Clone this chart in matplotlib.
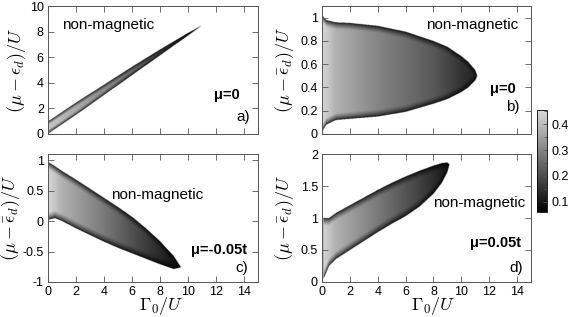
import numpy as np
import matplotlib
matplotlib.use('Agg')
import matplotlib.pyplot as plt
from matplotlib.colors import LinearSegmentedColormap

plt.rcParams['font.family'] = ['Liberation Sans', 'DejaVu Sans']
plt.rcParams['mathtext.fontset'] = 'cm'

# boundaries of the magnetic region (x = Gamma0/U)
a_x = [0.0, 0.1, 2.0, 4.0, 6.0, 8.0, 10.0, 11.0]
a_low = [0.05, 0.1, 1.5, 3.05, 4.6, 6.15, 7.7, 8.5]
a_up = [1.0, 1.05, 2.45, 3.85, 5.25, 6.6, 7.9, 8.5]
a_x_lvl = [0.0, 3.0, 6.0, 9.0, 11.0]
a_lvl = [0.42, 0.34, 0.25, 0.15, 0.08]

b_x = [0.0, 0.3, 1.0, 2.0, 4.0, 6.0, 8.0, 9.0, 10.0, 10.5, 11.0, 11.15]
b_low = [0.02, 0.08, 0.12, 0.13, 0.15, 0.19, 0.26, 0.3, 0.36, 0.4, 0.46, 0.5]
b_up = [1.02, 0.98, 0.96, 0.955, 0.93, 0.88, 0.8, 0.75, 0.67, 0.62, 0.55, 0.5]
b_x_lvl = [0.0, 1.0, 4.0, 8.0, 11.0]
b_lvl = [0.45, 0.38, 0.3, 0.22, 0.12]

c_x = [0.0, 0.5, 1.0, 2.0, 3.0, 4.0, 5.0, 6.0, 7.0, 8.0, 9.0, 9.5]
c_low = [0.02, 0.05, 0.0, -0.12, -0.23, -0.34, -0.44, -0.53, -0.62, -0.71, -0.79, -0.76]
c_up = [0.97, 0.9, 0.82, 0.68, 0.53, 0.38, 0.23, 0.07, -0.12, -0.33, -0.58, -0.76]
c_x_lvl = [0.0, 1.0, 4.0, 7.0, 9.5]
c_lvl = [0.45, 0.38, 0.28, 0.17, 0.08]

d_x = [0.1, 0.5, 1.0, 2.0, 3.0, 4.0, 5.0, 6.0, 7.0, 8.0, 8.6, 9.0, 9.15]
d_low = [0.05, 0.25, 0.36, 0.5, 0.64, 0.78, 0.91, 1.03, 1.18, 1.38, 1.55, 1.72, 1.84]
d_up = [1.0, 1.0, 1.08, 1.2, 1.32, 1.44, 1.55, 1.65, 1.74, 1.82, 1.86, 1.87, 1.84]
d_x_lvl = [0.0, 1.0, 4.0, 7.0, 9.0]
d_lvl = [0.45, 0.38, 0.28, 0.18, 0.1]

vmin, vmax = 0.06, 0.455
cmap = LinearSegmentedColormap.from_list('g', ['#000000', '#dadada'])


def field(bx, blow, bup, lx, lvl, ylim, edge):
    xs = np.linspace(0, 15, 700)
    ys = np.linspace(ylim[0], ylim[1], 400)
    X, Y = np.meshgrid(xs, ys)
    lo = np.interp(xs, bx, blow)
    hi = np.interp(xs, bx, bup)
    inside = (xs >= bx[0]) & (xs <= bx[-1])
    base = np.interp(xs, lx, lvl)
    d = np.minimum(Y - lo[None, :], hi[None, :] - Y)
    f = np.clip(d / edge, 0, 1) ** 0.6
    Z = vmin + (base[None, :] - vmin) * f
    mask = (d < 0) | (~inside[None, :])
    return np.ma.array(Z, mask=mask)


fig = plt.figure(figsize=(5.72, 3.17), dpi=100)
W, H = 572, 317


def make_ax(l, r, t, b):
    return fig.add_axes([l / W, 1 - b / H, (r - l) / W, (b - t) / H])


axa = make_ax(48, 258, 6, 134)
axb = make_ax(322, 531, 6, 134)
axc = make_ax(48, 258, 154, 282)
axd = make_ax(322, 531, 154, 282)

panels = [
    (axa, a_x, a_low, a_up, a_x_lvl, a_lvl, (0, 10), 0.3, r'$(\mu-\epsilon_d)/U$', [0, 2, 4, 6, 8, 10], ['0', '2', '4', '6', '8', '10']),
    (axb, b_x, b_low, b_up, b_x_lvl, b_lvl, (0, 1.1), 0.06, r'$(\mu-\bar{\epsilon}_d)/U$', [0, 0.2, 0.4, 0.6, 0.8, 1], ['0', '0.2', '0.4', '0.6', '0.8', '1']),
    (axc, c_x, c_low, c_up, c_x_lvl, c_lvl, (-1, 1.1), 0.12, r'$(\mu-\bar{\epsilon}_d)/U$', [-1, -0.5, 0, 0.5, 1], ['-1', '-0.5', '0', '0.5', '1']),
    (axd, d_x, d_low, d_up, d_x_lvl, d_lvl, (0, 2), 0.12, r'$(\mu-\bar{\epsilon}_d)/U$', [0, 0.5, 1, 1.5, 2], ['0', '0.5', '1', '1.5', '2']),
]

im = None
for ax, bx, blow, bup, lx, lvl, ylim, edge, ylab, yt, ytl in panels:
    Z = field(bx, blow, bup, lx, lvl, ylim, edge)
    im = ax.imshow(Z, origin='lower', extent=[0, 15, ylim[0], ylim[1]], aspect='auto',
                   cmap=cmap, vmin=vmin, vmax=vmax, interpolation='bilinear')
    ax.set_xlim(0, 15)
    ax.set_ylim(*ylim)
    ax.set_yticks(yt)
    ax.set_yticklabels(ytl)
    ax.set_xticks(range(0, 15, 2))
    ax.tick_params(direction='in', top=True, right=True, labelsize=9, length=4, width=0.6, pad=3, color='#555555')
    for s in ax.spines.values():
        s.set_linewidth(0.7)
        s.set_color('#555555')
    ax.set_ylabel(ylab, fontsize=13, labelpad=2)

for ax in (axa, axb):
    ax.set_xticklabels([])
for ax in (axc, axd):
    ax.set_xlabel(r'$\Gamma_0/U$', fontsize=13)

axa.yaxis.set_label_coords(-0.097, 0.5)
axc.yaxis.set_label_coords(-0.125, 0.5)
axb.yaxis.set_label_coords(-0.125, 0.5)
axd.yaxis.set_label_coords(-0.125, 0.5)
axc.xaxis.set_label_coords(0.54, -0.1)
axd.xaxis.set_label_coords(0.53, -0.1)

# annotations
axa.text(1.0, 8.5, 'non-magnetic', fontsize=11, va='center')
axa.text(13.7, 3.05, 'μ=0', fontsize=10.5, fontweight='bold', ha='right', va='center')
axa.text(14.4, 1.33, 'a)', fontsize=11, ha='right', va='center')

axb.text(14.1, 0.94, 'non-magnetic', fontsize=11, ha='right', va='center')
axb.text(13.9, 0.39, 'μ=0', fontsize=10.5, fontweight='bold', ha='right', va='center')
axb.text(14.2, 0.23, 'b)', fontsize=11, ha='right', va='center')

axc.text(7.8, 0.43, 'non-magnetic', fontsize=11, ha='center', va='center')
axc.text(14.2, -0.475, 'μ=-0.05t', fontsize=10.5, fontweight='bold', ha='right', va='center')
axc.text(14.3, -0.77, 'c)', fontsize=11, ha='right', va='center')

axd.text(14.6, 1.23, 'non-magnetic', fontsize=11, ha='right', va='center')
axd.text(14.3, 0.61, 'μ=0.05t', fontsize=10.5, fontweight='bold', ha='right', va='center')
axd.text(14.4, 0.22, 'd)', fontsize=11, ha='right', va='center')

cax = fig.add_axes([537 / W, 1 - 212 / H, 10 / W, 102 / H])
cb = fig.colorbar(im, cax=cax, ticks=[0.1, 0.2, 0.3, 0.4])
cb.ax.tick_params(labelsize=9, direction='in', length=3, width=0.6, color='#555555')
cb.ax.yaxis.set_ticks([0.1, 0.15, 0.2, 0.25, 0.3, 0.35, 0.4, 0.45], minor=True)
cb.ax.tick_params(which='minor', direction='in', length=2, color='#555555')
cb.ax.set_yticklabels(['0.1', '0.2', '0.3', '0.4'])
cb.outline.set_linewidth(0.6)

fig.savefig('out.png', dpi=100)
